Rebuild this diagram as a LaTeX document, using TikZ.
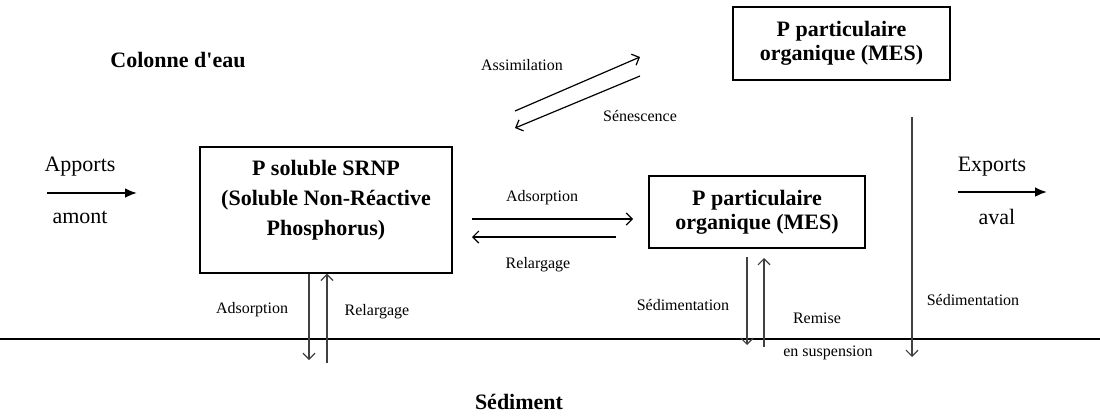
\documentclass[tikz,border=0pt]{standalone}
\usepackage{fontspec}
\setmainfont{Liberation Serif}[Ligatures=TeXOff]
\usetikzlibrary{arrows.meta}

\begin{document}
\begin{tikzpicture}[x=1pt, y=-1pt,
  box/.style={draw, line width=1.3pt, inner sep=0pt, align=center, font=\fontsize{22}{24}\selectfont\bfseries},
  bold/.style={font=\fontsize{22}{24}\selectfont\bfseries},
  txt/.style={font=\fontsize{22}{24}\selectfont},
  lab/.style={font=\fontsize{16}{18}\selectfont},
  flow/.style={line width=1.2pt, -{Straight Barb[length=6pt, width=12pt]}},
  io/.style={line width=2.5pt, -{Latex[length=12pt, width=10pt]}}]
  \useasboundingbox (0,0) rectangle (1100,416);

  % compartments
  \node[bold] (colonne) at (178,60) {Colonne d'eau};
  \node[bold] (sediment) at (519,402) {Sédiment};
  \node[box, minimum width=217pt, minimum height=73pt] (mesA) at (841.5,43.5) {P particulaire\\organique (MES)};
  \node[box, minimum width=252pt, minimum height=126pt] (srnp) at (326,210) {};
  \node[bold, align=center, font=\fontsize{22}{30}\selectfont\bfseries] (srnpT) at (326,200) {P soluble SRNP\\(Soluble Non-Réactive\\Phosphorus)};
  \node[box, minimum width=216pt, minimum height=72pt] (mesB) at (757,212) {P particulaire\\organique (MES)};

  % inputs and outputs
  \node[txt] (apports) at (80,167) {Apports};
  \node[txt] (amont) at (80,217) {amont};
  \node[txt] (exports) at (992,167) {Exports};
  \node[txt] (aval) at (997,217) {aval};
  \coordinate (inL) at (47,193);
  \coordinate (inR) at (137,193);
  \coordinate (outL) at (958,192);
  \coordinate (outR) at (1047,192);
  \draw[io] (inL) -- (inR);
  \draw[io] (outL) -- (outR);

  % water / sediment interface
  \coordinate (fondL) at (0,339);
  \coordinate (fondR) at (1100,339);
  \draw[line width=1.3pt] (fondL) -- (fondR);

  % assimilation / senescence
  \coordinate (assimS) at (515,111);
  \coordinate (assimE) at (640,57);
  \coordinate (senesS) at (640,76);
  \coordinate (senesE) at (515,128);
  \draw[flow] (assimS) -- (assimE);
  \draw[flow] (senesS) -- (senesE);
  \node[lab] (assim) at (522,65) {Assimilation};
  \node[lab] (senes) at (640,116) {Sénescence};

  % exchanges SRNP - MES
  \coordinate (adsL) at (472,219);
  \coordinate (adsR) at (633,219);
  \coordinate (relR) at (616,237);
  \coordinate (relL) at (472,237);
  \draw[flow] (adsL) -- (adsR);
  \draw[flow] (relR) -- (relL);
  \node[lab] (adsH) at (542,198) {Adsorption};
  \node[lab] (relH) at (538,265) {Relargage};

  % exchanges SRNP - sediment
  \coordinate (adsD) at (309,360);
  \coordinate (relD) at (327,363);
  \draw[flow, black!75] (srnp.south -| adsD) -- (adsD);
  \draw[flow, black!75] (relD) -- (srnp.south -| relD);
  \node[lab] (adsV) at (252,310) {Adsorption};
  \node[lab] (relV) at (377,312) {Relargage};

  % exchanges MES - sediment
  \coordinate (sedT) at (747,257);
  \coordinate (sedD) at (747,345);
  \coordinate (remD) at (764,347);
  \coordinate (remT) at (764,258);
  \draw[flow, black!75] (sedT) -- (sedD);
  \draw[flow, black!75] (remD) -- (remT);
  \node[lab] (sedB) at (683,305) {Sédimentation};
  \node[lab] (remise) at (817,318) {Remise};
  \node[lab] (susp) at (828,353) {en suspension};

  \coordinate (sedAT) at (912,117);
  \coordinate (sedAD) at (912,357);
  \draw[flow, black!75] (sedAT) -- (sedAD);
  \node[lab] (sedA) at (973,300) {Sédimentation};
\end{tikzpicture}
\end{document}
